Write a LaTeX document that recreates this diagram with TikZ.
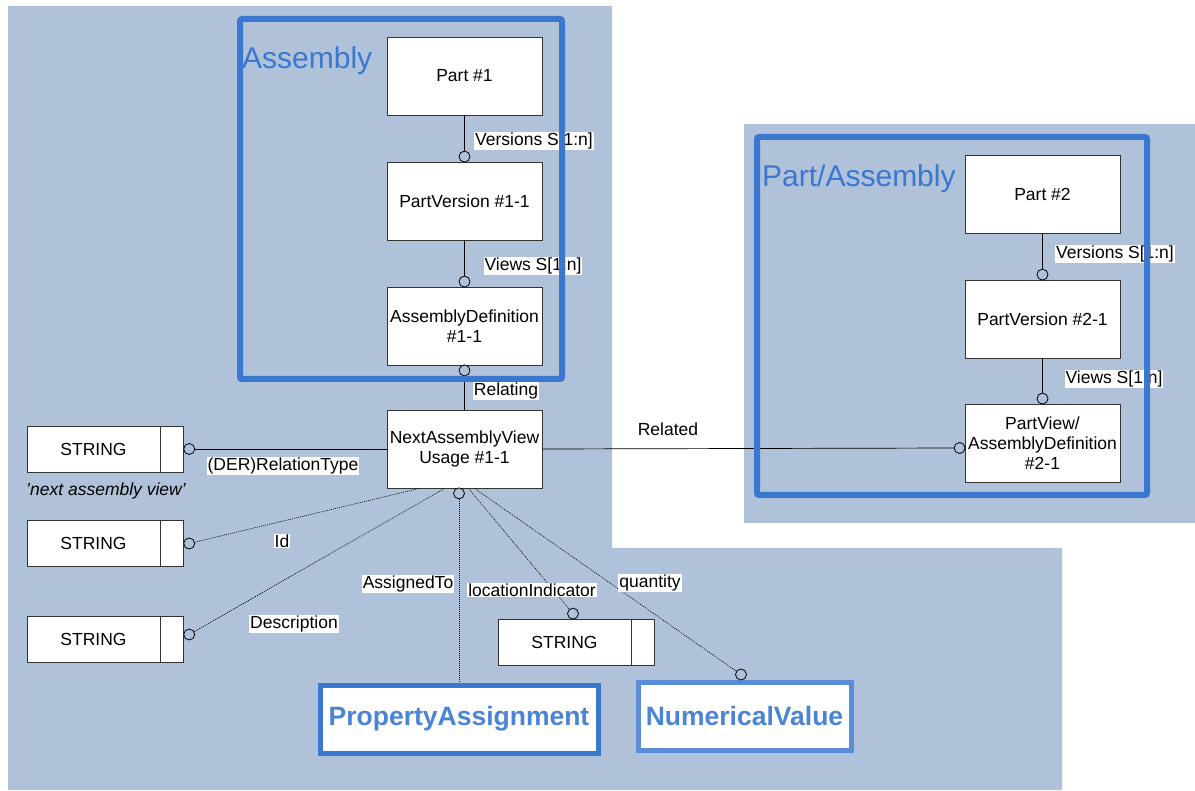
\documentclass[tikz,border=0pt]{standalone}
\usepackage{fontspec}
\setmainfont{Liberation Sans}
\definecolor{bgpanel}{HTML}{AFC2DA}
\definecolor{frameblue}{HTML}{3A77CF}
\definecolor{textblue}{HTML}{4A84D6}
\definecolor{nvblue}{HTML}{5A8CD8}
\newcommand{\dfont}{\fontsize{17.5}{20}\selectfont}
\begin{document}
\begin{tikzpicture}[x=1pt,y=-1pt,
  ent/.style={draw=black!80, fill=white, line width=0.8pt, minimum width=155, minimum height=78, align=center, font=\dfont, inner sep=1pt},
  strbox/.style={draw=black!80, fill=white, line width=0.8pt, minimum width=133, minimum height=46, font=\dfont, inner sep=0pt},
  strcell/.style={draw=black!80, fill=white, line width=0.8pt, minimum width=23, minimum height=46, inner sep=0pt, anchor=west},
  circ/.style={circle, draw=black, fill=bgpanel, line width=0.8pt, minimum size=11, inner sep=0pt},
  rel/.style={draw=black, line width=0.7pt},
  opt/.style={draw=black, line width=0.6pt, dash pattern=on 1pt off 1pt},
  lbl/.style={fill=white, inner sep=1pt, font=\dfont},
  frame/.style={draw=frameblue, line width=6pt, rounded corners=2pt},
  grouptitle/.style={text=frameblue, font=\fontsize{30}{34}\selectfont, anchor=west, inner sep=0pt},
  bigent/.style={fill=white, line width=5pt, font=\bfseries\fontsize{26.5}{30}\selectfont, inner sep=0pt}
]
\useasboundingbox (0,0) rectangle (1195,791);
% background panels
\fill[bgpanel] (8,6) -- (612,6) -- (612,548) -- (1062,548) -- (1062,790) -- (8,790) -- cycle;
\fill[bgpanel] (744,124) rectangle (1195,523);

% Assembly entities
\node[ent] (part1) at (464.5,76) {Part \#1};
\node[ent] (pv1) at (464.5,201) {PartVersion \#1-1};
\node[ent] (ad1) at (464.5,326) {AssemblyDefinition\\\#1-1};
\node[ent] (nav) at (464.5,449) {NextAssemblyView\\Usage \#1-1};

% Part/Assembly entities
\node[ent] (part2) at (1042.5,194) {Part \#2};
\node[ent] (pv2) at (1042.5,319) {PartVersion \#2-1};
\node[ent] (pvad2) at (1042.5,443) {PartView/\\AssemblyDefinition\\\#2-1};

% STRING boxes
\node[strbox] (str1) at (93.5,449) {STRING};
\node[strcell] (str1c) at (str1.east) {};
\node[strbox] (str2) at (93.5,543.5) {STRING};
\node[strcell] (str2c) at (str2.east) {};
\node[strbox] (str3) at (93.5,639.5) {STRING};
\node[strcell] (str3c) at (str3.east) {};
\node[strbox] (str4) at (564.5,642) {STRING};
\node[strcell] (str4c) at (str4.east) {};

% big entities
\node[bigent, draw=frameblue, text=textblue, minimum width=278, minimum height=68] (pa) at (459,719) {PropertyAssignment};
\node[bigent, draw=nvblue, text=textblue, minimum width=213, minimum height=68] (nv) at (744.5,716) {NumericalValue};

% circles
\node[circ] (cpv1) at ([yshift=5]pv1.north) {};
\node[circ] (cad1) at ([yshift=5]ad1.north) {};
\node[circ] (crel) at ([yshift=-5]ad1.south) {};
\node[circ] (cpv2) at ([yshift=5]pv2.north) {};
\node[circ] (cpvad2) at ([yshift=5]pvad2.north) {};
\node[circ] (crelated) at ([xshift=-5,yshift=-5]pvad2.west) {};
\node[circ] (cs1) at ([xshift=5]str1c.east) {};
\node[circ] (cs2) at ([xshift=5]str2c.east) {};
\node[circ] (cs3) at ([xshift=5,yshift=5]str3c.east) {};
\node[circ] (cat) at ([xshift=-5.5,yshift=-5]nav.south) {};
\node[circ] (cs4) at ([xshift=8.5,yshift=5]str4.north) {};
\node[circ] (cnv) at ([xshift=-3.5,yshift=5]nv.north) {};

% solid relationships
\draw[rel] (part1) -- (cpv1);
\draw[rel] (pv1) -- (cad1);
\draw[rel] (crel) -- (nav);
\draw[rel] (part2) -- (cpv2);
\draw[rel] (pv2) -- (cpvad2);
\draw[rel] (nav.east) -- (crelated);
\draw[rel] (cs1) -- (nav.west);

% dotted relationships
\draw[opt] (cs2) -- ([xshift=-45]nav.south);
\draw[opt] (cs3) -- ([xshift=-20]nav.south);
\draw[opt] (cat) -- (cat |- pa.north);
\draw[opt] ([xshift=4]nav.south) -- (cs4);
\draw[opt] ([xshift=10]nav.south) -- (cnv);

% labels
\node[lbl] (lv1) at (534,141) {Versions S[1:n]};
\node[lbl] (lw1) at (533,266) {Views S[1:n]};
\node[lbl] (lrel) at (506,391) {Relating};
\node[lbl] (lv2) at (1115,254) {Versions S[1:n]};
\node[lbl] (lw2) at (1114,379) {Views S[1:n]};
\node[font=\dfont, inner sep=1pt] (lrelated) at (668,429) {Related};
\node[lbl] (lder) at (283,466) {(DER)RelationType};
\node[font=\dfont\itshape, inner sep=1pt] (lnav) at (106,491) {'next assembly view'};
\node[lbl] (lid) at (282,541) {Id};
\node[lbl] (ldesc) at (294,624) {Description};
\node[lbl] (lat) at (408,584) {AssignedTo};
\node[lbl] (lloc) at (532,590) {locationIndicator};
\node[lbl] (lqty) at (650,583) {quantity};

% group frames
\draw[frame] (240,19) rectangle (562,379);
\node[grouptitle] (tasm) at (242,61) {Assembly};
\draw[frame] (757,137) rectangle (1147,495);
\node[grouptitle] (tpa) at (762,179) {Part/Assembly};
\end{tikzpicture}
\end{document}
